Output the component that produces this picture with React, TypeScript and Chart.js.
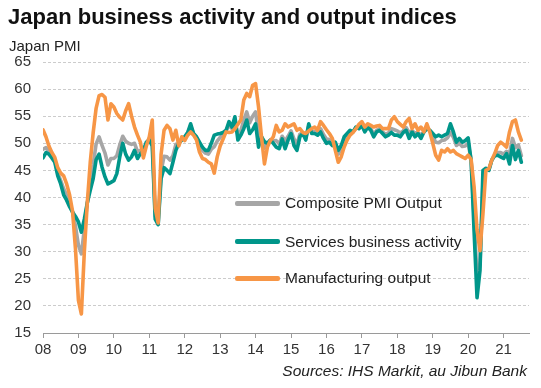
import React, { useEffect, useRef } from "react";
import { Chart, registerables } from "chart.js";

Chart.register(...registerables);

const FONT = '"Liberation Sans", Arial, Helvetica, sans-serif';

// Year tick labels (January of each year), months indexed from Jan 2008 = 0
const yearLabels = ["08", "09", "10", "11", "12", "13", "14", "15", "16", "17", "18", "19", "20", "21"];
const yTicks = [15, 20, 25, 30, 35, 40, 45, 50, 55, 60, 65];

const seriesNames = ["Composite PMI Output", "Services business activity", "Manufacturing output"];
const seriesColors = ["#A6A6A6", "#00968A", "#F79646"];

// Monthly values, Jan 2008 – Jul 2021
const composite = [
  48.9, 49.2, 48.5, 47.6, 46.8, 44.5, 43.1, 41.6, 40.4, 39.0, 37.4, 34.7, // 2008
  31.2, 29.6, 34.2, 39.0, 42.9, 46.1, 49.9, 51.2, 49.6, 48.2, 46.0, 47.2, // 2009
  47.2, 47.7, 49.7, 51.3, 50.4, 50.0, 49.8, 50.0, 48.5, 48.7, 48.3, 50.0, // 2010
  50.8, 50.9, 36.6, 35.1, 44.9, 47.6, 47.5, 46.9, 47.7, 49.8, 49.9, 50.8, // 2011
  51.0, 51.9, 53.2, 51.7, 51.0, 49.7, 48.7, 48.2, 48.0, 48.9, 49.4, 50.4, // 2012
  51.1, 51.6, 52.3, 53.4, 52.7, 54.2, 51.5, 52.3, 54.3, 55.8, 53.8, 55.0, // 2013
  55.8, 51.5, 51.2, 49.1, 49.8, 50.6, 50.4, 50.5, 49.9, 51.3, 50.4, 51.3, // 2014
  52.3, 50.8, 49.8, 51.7, 51.9, 51.0, 53.2, 52.1, 52.2, 51.8, 52.7, 51.6, // 2015
  50.8, 50.7, 50.0, 49.8, 48.0, 49.0, 50.6, 51.4, 52.1, 52.1, 52.9, 52.9, // 2016
  53.5, 52.4, 53.2, 52.7, 51.7, 52.4, 52.7, 52.1, 51.7, 51.9, 52.7, 52.5, // 2017
  52.3, 51.9, 52.3, 52.9, 52.0, 52.3, 51.9, 52.0, 51.5, 52.1, 53.0, 52.3, // 2018
  51.3, 50.2, 50.1, 50.5, 50.6, 51.0, 52.0, 51.1, 49.6, 50.0, 49.4, 49.5, // 2019
  50.0, 46.9, 36.3, 25.3, 27.6, 42.6, 45.3, 45.1, 46.9, 47.8, 48.3, 48.3, // 2020
  48.0, 48.5, 48.0, 50.9, 49.2, 49.7, 47.7, // 2021
];

const services = [
  47.3, 48.3, 48.0, 47.3, 46.5, 44.0, 42.5, 40.5, 39.5, 38.3, 37.3, 36.5, // 2008
  35.5, 33.6, 36.0, 39.0, 41.3, 43.5, 47.0, 48.0, 45.6, 43.8, 42.5, 42.8, // 2009
  43.1, 44.4, 47.5, 50.0, 48.0, 46.9, 47.5, 48.7, 47.2, 48.1, 48.7, 50.2, // 2010
  50.6, 49.5, 36.0, 35.0, 43.5, 45.5, 45.0, 44.4, 46.5, 48.7, 50.0, 50.6, // 2011
  51.2, 52.0, 53.6, 51.8, 51.2, 50.2, 49.3, 48.7, 48.7, 50.0, 51.5, 51.7, // 2012
  51.8, 52.0, 52.4, 54.0, 53.0, 54.9, 50.6, 51.5, 52.7, 54.3, 51.8, 52.5, // 2013
  53.6, 49.3, 51.2, 50.3, 50.0, 50.6, 50.0, 49.3, 49.0, 50.8, 49.0, 50.6, // 2014
  51.8, 49.6, 48.7, 51.2, 51.8, 50.6, 53.6, 51.8, 51.8, 51.5, 52.1, 50.9, // 2015
  50.0, 50.2, 49.6, 50.2, 48.7, 49.6, 51.2, 51.8, 52.4, 52.1, 53.0, 52.7, // 2016
  53.3, 52.1, 53.0, 52.4, 51.2, 52.1, 52.4, 51.8, 51.2, 51.5, 52.0, 51.5, // 2017
  51.5, 51.2, 52.0, 52.4, 50.9, 52.1, 51.2, 51.8, 50.9, 52.1, 52.7, 52.4, // 2018
  51.8, 51.2, 51.5, 51.2, 51.5, 51.8, 53.6, 52.1, 50.2, 50.9, 50.2, 50.5, // 2019
  51.0, 46.8, 33.8, 21.5, 26.5, 45.0, 45.4, 45.0, 46.9, 47.7, 47.8, 47.5, // 2020
  47.2, 48.1, 46.2, 49.6, 47.0, 48.7, 46.5, // 2021
];

const manufacturing = [
  52.5, 51.2, 49.5, 48.3, 47.4, 45.5, 44.5, 44.0, 42.5, 40.5, 37.5, 30.5, // 2008
  21.0, 18.5, 30.0, 39.0, 46.5, 52.0, 56.5, 58.8, 59.0, 58.5, 54.3, 57.3, // 2009
  56.7, 55.5, 54.8, 54.3, 56.0, 57.3, 55.0, 53.0, 51.5, 50.2, 47.3, 49.5, // 2010
  51.2, 54.3, 38.0, 35.3, 48.0, 52.4, 53.3, 52.7, 50.6, 52.4, 49.5, 51.2, // 2011
  50.5, 51.5, 52.1, 51.5, 50.6, 48.4, 47.2, 47.0, 46.5, 46.2, 44.5, 47.5, // 2012
  49.5, 50.8, 52.1, 52.0, 52.1, 52.7, 53.5, 54.3, 58.0, 59.2, 58.6, 60.7, // 2013
  61.0, 56.7, 51.2, 46.2, 49.3, 50.5, 51.2, 53.3, 52.1, 52.4, 53.6, 53.0, // 2014
  53.3, 53.6, 52.4, 52.7, 52.0, 51.8, 52.3, 52.7, 53.0, 52.4, 54.0, 53.3, // 2015
  52.5, 51.8, 50.9, 48.7, 46.5, 47.5, 49.3, 50.6, 51.5, 52.0, 52.7, 53.5, // 2016
  54.0, 53.0, 53.6, 53.3, 53.0, 53.2, 53.3, 52.7, 52.7, 52.7, 54.3, 54.9, // 2017
  54.0, 53.5, 53.0, 54.0, 54.6, 52.7, 53.6, 52.4, 53.0, 52.1, 53.6, 52.1, // 2018
  50.0, 47.8, 46.9, 48.7, 48.4, 49.0, 48.4, 48.7, 48.1, 47.8, 47.5, 47.2, // 2019
  47.8, 47.0, 42.0, 34.0, 30.2, 37.0, 45.0, 45.3, 46.9, 48.1, 49.6, 50.2, // 2020
  49.8, 49.3, 52.1, 54.0, 54.3, 52.1, 50.6, // 2021
];

const toPoints = (arr: number[]) => arr.map((v, i) => ({ x: i, y: v }));

export default function App() {
  const ref = useRef<HTMLCanvasElement>(null);

  useEffect(() => {
    document.body.style.margin = "0";
    const ctx = ref.current!;
    const mk = (label: string, data: number[], color: string) => ({
      label,
      data: toPoints(data),
      borderColor: color,
      backgroundColor: color,
      borderWidth: 3.6,
      pointRadius: 0,
      tension: 0,
      borderJoinStyle: "round" as const,
      borderCapStyle: "round" as const,
      fill: false,
    });
    const chart = new Chart(ctx, {
      type: "line",
      data: {
        // first dataset is drawn on top
        datasets: [
          mk(seriesNames[2], manufacturing, seriesColors[2]),
          mk(seriesNames[1], services, seriesColors[1]),
          mk(seriesNames[0], composite, seriesColors[0]),
        ],
      },
      options: {
        animation: false,
        responsive: false,
        maintainAspectRatio: false,
        layout: { padding: { left: 0, top: 62, right: 12, bottom: 0 } },
        plugins: { legend: { display: false }, tooltip: { enabled: false } },
        scales: {
          x: {
            type: "linear",
            min: 0,
            max: 164.6,
            afterBuildTicks: (s: any) => {
              s.ticks = yearLabels.map((_, k) => ({ value: k * 12 }));
            },
            afterFit: (s: any) => {
              s.height = 55;
            },
            ticks: {
              autoSkip: false,
              maxRotation: 0,
              padding: 3,
              color: "#333",
              font: { family: FONT, size: 15 },
              callback: (_v: any, i: number) => yearLabels[i],
            },
            grid: { drawOnChartArea: false, drawTicks: true, tickLength: 5, color: "#9a9a9a" },
            border: { display: true, color: "#9a9a9a", width: 1 },
          },
          y: {
            min: 15,
            max: 65,
            afterBuildTicks: (s: any) => {
              s.ticks = yTicks.map((v) => ({ value: v }));
            },
            afterFit: (s: any) => {
              s.width = 43;
            },
            ticks: {
              padding: 12,
              color: "#333",
              font: { family: FONT, size: 15 },
            },
            grid: { drawTicks: false, color: "#cccccc", lineWidth: 1 },
            border: { display: false, dash: [3, 2] },
          },
        },
      },
    });
    return () => chart.destroy();
  }, []);

  const legendRows = [
    { y: 203, name: seriesNames[0], color: seriesColors[0] },
    { y: 241.5, name: seriesNames[1], color: seriesColors[1] },
    { y: 278, name: seriesNames[2], color: seriesColors[2] },
  ];

  return (
    <div
      style={{
        position: "relative",
        width: 541,
        height: 388,
        background: "#fff",
        fontFamily: FONT,
        overflow: "hidden",
      }}
    >
      <canvas
        ref={ref}
        width={541}
        height={388}
        style={{ position: "absolute", left: 0, top: 0, width: 541, height: 388 }}
      />
      <div
        style={{
          position: "absolute",
          left: 8,
          top: 4,
          fontSize: 22,
          lineHeight: "26px",
          fontWeight: "bold",
          color: "#111",
          whiteSpace: "nowrap",
        }}
      >
        Japan business activity and output indices
      </div>
      <div
        style={{
          position: "absolute",
          left: 9,
          top: 36.5,
          fontSize: 15,
          lineHeight: "18px",
          color: "#222",
          whiteSpace: "nowrap",
        }}
      >
        Japan PMI
      </div>
      {legendRows.map((r) => (
        <div
          key={r.name}
          style={{
            position: "absolute",
            left: 235,
            top: r.y - 10,
            height: 20,
            display: "flex",
            alignItems: "center",
            whiteSpace: "nowrap",
          }}
        >
          <div style={{ width: 45, height: 5, background: r.color, borderRadius: 2 }} />
          <span style={{ marginLeft: 5, fontSize: 15.5, color: "#222" }}>{r.name}</span>
        </div>
      ))}
      <div
        style={{
          position: "absolute",
          right: 14,
          top: 361.5,
          fontSize: 15.5,
          lineHeight: "18px",
          fontStyle: "italic",
          color: "#222",
          whiteSpace: "nowrap",
        }}
      >
        Sources: IHS Markit, au Jibun Bank
      </div>
    </div>
  );
}
